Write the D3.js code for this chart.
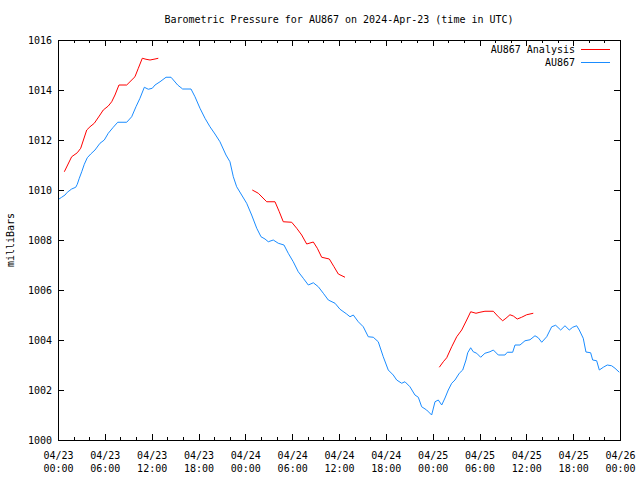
<!DOCTYPE html>
<html>
<head>
<meta charset="utf-8">
<script src="https://cdn.jsdelivr.net/npm/d3@7/dist/d3.min.js"></script>
<style>
  html, body { margin: 0; padding: 0; background: #fff; }
  svg { display: block; }
  text { font-family: "DejaVu Sans Mono", "Liberation Mono", monospace; font-size: 10px; fill: #000; }
</style>
</head>
<body>
<svg id="chart" width="640" height="480"></svg>
<script>
// ---- Data (hours after 2024-04-23 00:00 UTC, pressure in mb) ----
const titleText = "Barometric Pressure for AU867 on 2024-Apr-23 (time in UTC)";
const yLabel = "milliBars";
const seriesNames = ["AU867 Analysis", "AU867"];

const stationHours = [0.13,0.47,0.90,1.19,1.75,2.27,2.47,2.73,3.04,3.37,3.75,4.19,4.74,5.38,5.93,6.44,7.08,7.65,8.80,9.44,9.99,10.50,11.06,11.57,12.08,12.43,13.07,13.84,14.48,15.33,15.97,17.04,17.55,18.19,18.83,19.47,20.11,20.75,21.52,22.03,22.46,22.89,23.53,24.17,24.81,25.46,26.01,26.52,26.94,27.58,28.22,28.95,29.50,30.14,30.78,31.42,32.07,32.71,33.35,33.99,34.63,35.49,36.13,36.98,37.41,37.83,38.47,39.11,39.75,40.39,41.03,41.67,42.31,42.95,43.39,44.03,44.45,45.09,45.73,46.16,46.59,47.23,47.87,48.30,48.72,49.16,49.58,50.00,50.44,50.86,51.41,51.85,52.27,52.49,52.87,53.20,53.64,54.15,54.70,55.34,55.77,56.41,57.26,57.56,58.25,58.55,59.19,59.83,60.47,61.11,61.53,61.97,62.61,63.25,63.76,64.40,64.95,65.50,65.94,66.45,66.78,67.29,67.64,68.24,68.50,69.01,69.35,69.86,70.37,70.93,71.36,71.91];
const stationPressure = [1009.64,1009.71,1009.80,1009.91,1010.04,1010.11,1010.23,1010.47,1010.73,1011.03,1011.29,1011.44,1011.60,1011.87,1012.00,1012.27,1012.51,1012.71,1012.71,1012.93,1013.33,1013.67,1014.11,1014.03,1014.07,1014.20,1014.33,1014.51,1014.51,1014.20,1014.04,1014.04,1013.73,1013.27,1012.87,1012.53,1012.24,1011.93,1011.40,1011.13,1010.53,1010.13,1009.80,1009.47,1009.00,1008.47,1008.13,1008.04,1007.93,1008.00,1007.87,1007.80,1007.47,1007.13,1006.73,1006.47,1006.20,1006.29,1006.13,1005.87,1005.60,1005.47,1005.23,1005.04,1004.93,1005.00,1004.73,1004.53,1004.13,1004.11,1003.93,1003.33,1002.80,1002.60,1002.40,1002.27,1002.33,1002.13,1001.80,1001.71,1001.33,1001.20,1001.00,1001.53,1001.60,1001.40,1001.68,1002.00,1002.27,1002.40,1002.67,1002.80,1003.20,1003.49,1003.69,1003.53,1003.47,1003.31,1003.47,1003.53,1003.60,1003.40,1003.40,1003.51,1003.51,1003.80,1003.80,1003.97,1004.01,1004.17,1004.09,1003.91,1004.13,1004.53,1004.59,1004.40,1004.57,1004.40,1004.51,1004.57,1004.40,1004.07,1003.52,1003.49,1003.20,1003.17,1002.80,1002.91,1003.00,1002.97,1002.87,1002.71];

// analysis: three runs separated by null gaps
const analysisHours = [0.81,1.75,2.47,2.91,3.68,4.10,4.65,5.29,5.80,6.44,6.88,7.30,7.81,8.80,9.86,10.29,10.80,11.27,11.79,12.43,12.85, null,
  24.89,25.66,26.74,27.80,28.35,28.86,29.94,30.58,31.22,31.86,32.71,33.22,33.78,34.76,35.36,35.91,36.77, null,
  48.85,49.36,49.80,50.44,51.08,51.72,52.36,52.87,53.55,54.06,54.70,55.77,56.41,56.97,57.39,57.90,58.33,58.84,59.40,60.04,60.89];
const analysisPressure = [1010.73,1011.33,1011.49,1011.67,1012.40,1012.53,1012.67,1012.96,1013.20,1013.36,1013.53,1013.80,1014.20,1014.20,1014.53,1014.87,1015.27,1015.23,1015.20,1015.24,1015.27, null,
  1010.00,1009.87,1009.53,1009.53,1009.13,1008.73,1008.71,1008.47,1008.20,1007.84,1007.92,1007.67,1007.31,1007.24,1006.93,1006.64,1006.51, null,
  1002.91,1003.13,1003.29,1003.73,1004.13,1004.40,1004.80,1005.13,1005.07,1005.11,1005.15,1005.15,1004.93,1004.77,1004.87,1005.01,1004.96,1004.84,1004.91,1005.01,1005.07];

const xTickHours = [0,6,12,18,24,30,36,42,48,54,60,66,72];
const xTickDates = ["04/23","04/23","04/23","04/23","04/24","04/24","04/24","04/24","04/25","04/25","04/25","04/25","04/26"];
const xTickTimes = ["00:00","06:00","12:00","18:00","00:00","06:00","12:00","18:00","00:00","06:00","12:00","18:00","00:00"];
const xMinorHours = d3.range(0, 73, 2).filter(h => h % 6 !== 0);
const yTicks = [1000,1002,1004,1006,1008,1010,1012,1014,1016];

// ---- Layout ----
const W = 640, H = 480;
const m = { left: 58, right: 20, top: 40, bottom: 40 };
const iw = W - m.left - m.right, ih = H - m.top - m.bottom;
const colors = ["#ff0000", "#1a8cff"];

const svg = d3.select("#chart");
const g = svg.append("g").attr("transform", `translate(${m.left},${m.top})`);

const x = d3.scaleLinear().domain([0, 72]).range([0, iw]);
const y = d3.scaleLinear().domain([1000, 1016]).range([ih, 0]);

// Axes (ticks inward, gnuplot style with mirrors)
const axLeft = g.append("g").call(d3.axisLeft(y).tickValues(yTicks).tickSize(-6).tickPadding(6).tickFormat(d3.format("d")));
const axRight = g.append("g").attr("transform", `translate(${iw},0)`).call(d3.axisRight(y).tickValues(yTicks).tickSize(-6).tickFormat(""));
const axBottom = g.append("g").attr("transform", `translate(0,${ih})`)
  .call(d3.axisBottom(x).tickValues(xTickHours).tickSize(-6).tickPadding(10).tickFormat(""));
const axBottomMinor = g.append("g").attr("transform", `translate(0,${ih})`)
  .call(d3.axisBottom(x).tickValues(xMinorHours).tickSize(-3).tickFormat(""));
const axTop = g.append("g").call(d3.axisTop(x).tickValues(xTickHours).tickSize(-6).tickFormat(""));
const axTopMinor = g.append("g").call(d3.axisTop(x).tickValues(xMinorHours).tickSize(-3).tickFormat(""));

[axLeft, axRight, axBottom, axBottomMinor, axTop, axTopMinor].forEach(a => {
  a.attr("font-family", null).attr("font-size", null);
  a.select(".domain").remove();
  a.selectAll("line").attr("stroke", "#000").attr("shape-rendering", "crispEdges");
});
axLeft.selectAll("text").attr("fill", "#000");

// two-line x labels
axBottom.selectAll(".tick").each(function(d, i) {
  const t = d3.select(this).append("text").attr("text-anchor", "middle").attr("fill", "#000");
  t.append("tspan").attr("x", 0).attr("y", 19).text(xTickDates[i]);
  t.append("tspan").attr("x", 0).attr("y", 32).text(xTickTimes[i]);
});

// border
g.append("rect").attr("x", 0).attr("y", 0).attr("width", iw).attr("height", ih)
  .attr("fill", "none").attr("stroke", "#000").attr("shape-rendering", "crispEdges");

// lines
const stationData = stationHours.map((h, i) => [h, stationPressure[i]]);
const analysisData = analysisHours.map((h, i) => [h, analysisPressure[i]]);
const line = d3.line().defined(d => d[0] != null && d[1] != null).x(d => x(d[0])).y(d => y(d[1]));

g.append("path").datum(analysisData).attr("d", line).attr("fill", "none").attr("stroke", colors[0]).attr("stroke-width", 1);
g.append("path").datum(stationData).attr("d", line).attr("fill", "none").attr("stroke", colors[1]).attr("stroke-width", 1);

// title
svg.append("text").attr("x", 339).attr("y", 23).attr("text-anchor", "middle").text(titleText);

// y label
svg.append("text").attr("transform", "translate(14,240) rotate(-90)").attr("text-anchor", "middle").text(yLabel);

// legend
seriesNames.forEach((name, i) => {
  const ly = 49 + i * 13;
  svg.append("text").attr("x", 575).attr("y", ly + 4).attr("text-anchor", "end").text(name);
  svg.append("line").attr("x1", 581).attr("x2", 610).attr("y1", ly).attr("y2", ly)
    .attr("stroke", colors[i]).attr("stroke-width", 1).attr("shape-rendering", "crispEdges");
});
</script>
</body>
</html>
